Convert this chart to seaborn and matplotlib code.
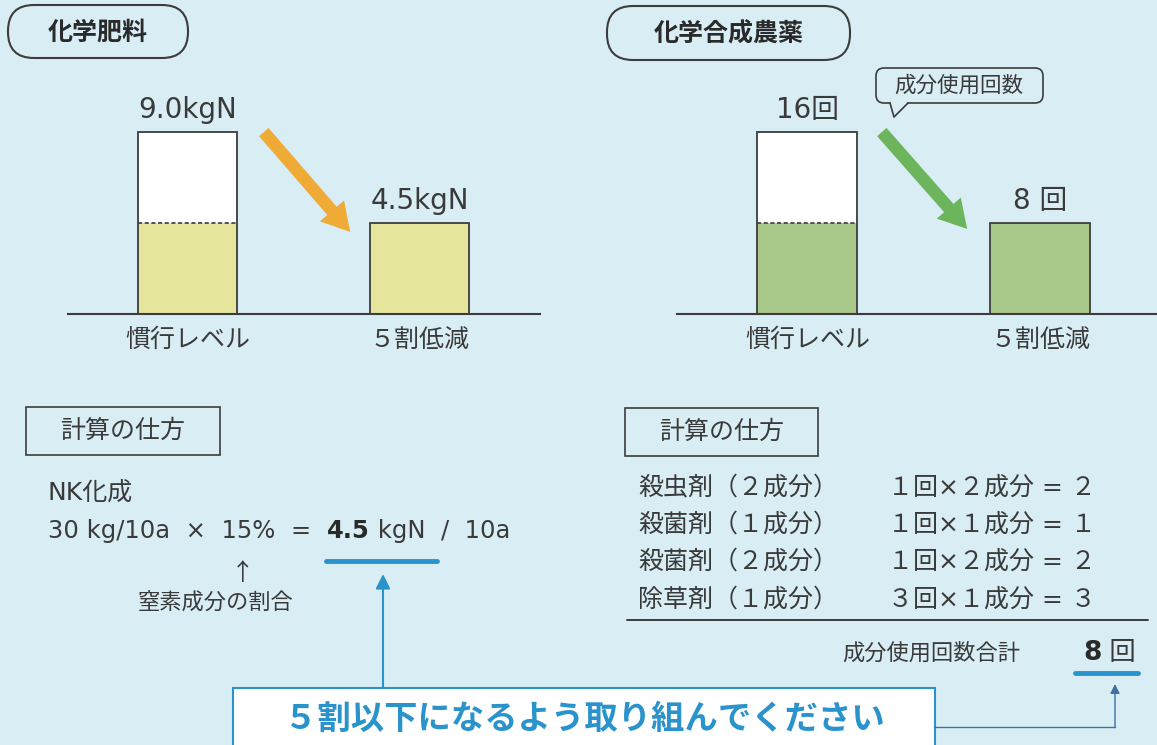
import numpy as np
import pandas as pd
import matplotlib
matplotlib.use("Agg")
import matplotlib.pyplot as plt
from matplotlib.patches import FancyBboxPatch, Rectangle, FancyArrowPatch, Polygon
from matplotlib.lines import Line2D
import seaborn as sns


# ==========================================================
# DATA
# ==========================================================

fert_title = "化学肥料"
fert_labels = ["慣行レベル", "５割低減"]
fert_values = [9.0, 4.5]
fert_value_labels = ["9.0kgN", "4.5kgN"]
fert_target = 4.5

pest_title = "化学合成農薬"
pest_labels = ["慣行レベル", "５割低減"]
pest_values = [16, 8]
pest_value_labels = ["16回", "8 回"]
pest_target = 8

calc_title = "計算の仕方"
fert_calc_name = "NK化成"
fert_calc_parts = ["30 kg/10a  ×  15%  =  ", "4.5", " kgN  /  10a"]
fert_calc_note = "窒素成分の割合"

pest_rows = [
    "殺虫剤（２成分）",
    "殺菌剤（１成分）",
    "殺菌剤（２成分）",
    "除草剤（１成分）",
]
pest_calcs = [
    "１回×２成分 = ２",
    "１回×１成分 = １",
    "１回×２成分 = ２",
    "３回×１成分 = ３",
]
pest_total_label = "成分使用回数合計"
pest_total = ["8", " 回"]
bubble_text = "成分使用回数"
callout_text = "５割以下になるよう取り組んでください"


# ==========================================================
# STYLE
# ==========================================================

W, H = 1157, 745
BG = "#d8eef4"
TEXT = "#3a3a3a"
EDGE = "#3c3c3c"
YELLOW = "#e6e59c"
GREEN = "#a9c98b"
ORANGE = "#f0aa36"
LEAF = "#6cb55c"
BLUE = "#2a93cc"
NAVY = "#3f6fa3"
BAR_W = 0.43

sns.set_theme(style="white")
plt.rcParams["font.family"] = ["DejaVu Sans", "Noto Sans CJK JP"]
CJK = ["Noto Sans CJK JP", "DejaVu Sans"]

fig = plt.figure(figsize=(W / 100, H / 100), dpi=100, facecolor=BG)

# full-figure overlay in pixel units
bg = fig.add_axes([0, 0, 1, 1])
bg.set_xlim(0, W)
bg.set_ylim(H, 0)
bg.axis("off")


def px_axes(x0, y0, x1, y1):
    return fig.add_axes([x0 / W, 1 - y1 / H, (x1 - x0) / W, (y1 - y0) / H])


# ==========================================================
# BAR PANELS
# ==========================================================

def draw_bars(ax, labels, values, target, fill_color, value_labels,
              x_left, x_right, top_px, base_px, axes_top_px):

    df = pd.DataFrame({
        "label": labels,
        "value": values,
        "filled": np.minimum(values, target),
    })

    sns.barplot(data=df, x="label", y="value", color="white",
                width=BAR_W, saturation=1, linewidth=0,
                errorbar=None, ax=ax)
    sns.barplot(data=df, x="label", y="filled", color=fill_color,
                width=BAR_W, saturation=1, linewidth=0,
                errorbar=None, ax=ax)
    sns.barplot(data=df, x="label", y="value", color=EDGE,
                width=BAR_W, fill=False, linewidth=1.3,
                errorbar=None, ax=ax)

    outline = ax.patches[-len(values):]

    for p, v, lbl in zip(outline, values, value_labels):
        if v > target:
            ax.hlines(target, p.get_x(), p.get_x() + p.get_width(),
                      colors=EDGE, linestyles=(0, (2.5, 1.5)), lw=1.2)
        ax.annotate(lbl, xy=(p.get_x() + p.get_width() / 2, v),
                    xytext=(0, 6), textcoords="offset points",
                    ha="center", va="bottom", fontsize=20, color=TEXT)

    ax.set_xlim(x_left, x_right)
    ax.set_ylim(0, max(values) * (base_px - axes_top_px) / (base_px - top_px))
    ax.set_xlabel("")
    ax.set_ylabel("")
    ax.set_yticks([])
    ax.set_facecolor("none")
    for s in ["left", "right", "top"]:
        ax.spines[s].set_visible(False)
    ax.spines["bottom"].set_color(EDGE)
    ax.spines["bottom"].set_linewidth(1.5)
    ax.tick_params(axis="x", length=0, pad=9, labelsize=18, labelcolor=TEXT)
    for lab in ax.get_xticklabels():
        lab.set_family(CJK)


ax1 = px_axes(68, 60, 540, 314)
draw_bars(ax1, fert_labels, fert_values, fert_target, YELLOW,
          fert_value_labels, -0.515, 1.519, 132, 314, 60)

ax2 = px_axes(677, 60, 1157, 314)
draw_bars(ax2, pest_labels, pest_values, pest_target, GREEN,
          pest_value_labels, -0.561, 1.503, 132, 314, 60)


# ==========================================================
# TITLES / DECORATIONS
# ==========================================================

for (x0, y0, x1, y1), title in [((8, 5, 188, 58), fert_title),
                                ((607, 6, 850, 60), pest_title)]:
    bg.add_patch(FancyBboxPatch(
        (x0, y0), x1 - x0, y1 - y0,
        boxstyle="round,pad=0,rounding_size=26",
        facecolor="none", edgecolor=EDGE, lw=1.5
    ))
    bg.text((x0 + x1) / 2, (y0 + y1) / 2 + 1, title, ha="center",
            va="center", fontsize=18, fontweight="bold", color="#2a2a2a",
            family=CJK)

# big arrows
bg.add_patch(FancyArrowPatch(
    (262, 130), (352, 234),
    arrowstyle="simple,head_width=2.3,head_length=2.0,tail_width=0.9",
    mutation_scale=10, color=ORANGE, lw=0
))
bg.add_patch(FancyArrowPatch(
    (880, 130), (969, 231),
    arrowstyle="simple,head_width=2.3,head_length=2.0,tail_width=0.9",
    mutation_scale=10, color=LEAF, lw=0
))

# speech bubble
bg.add_patch(FancyBboxPatch(
    (876, 68), 167, 35,
    boxstyle="round,pad=0,rounding_size=8",
    facecolor=BG, edgecolor=EDGE, lw=1.2
))
bg.add_patch(Polygon([(891, 101), (907, 101), (907, 105), (891, 105)],
                     closed=True, facecolor=BG, edgecolor="none"))
bg.add_line(Line2D([890, 894, 908], [103, 117, 103], color=EDGE, lw=1.2))
bg.text(959, 86, bubble_text, ha="center", va="center",
        fontsize=15.5, color=TEXT, family=CJK)

# calc boxes
for x0, y0, x1, y1 in [(26, 407, 220, 455), (625, 408, 818, 456)]:
    bg.add_patch(Rectangle((x0, y0), x1 - x0, y1 - y0,
                           facecolor="none", edgecolor=EDGE, lw=1.2))
    bg.text((x0 + x1) / 2, (y0 + y1) / 2, calc_title, ha="center",
            va="center", fontsize=18, color=TEXT, family=CJK)


# ==========================================================
# FERTILIZER CALCULATION
# ==========================================================

bg.text(48, 493, fert_calc_name, ha="left", va="center",
        fontsize=18, color=TEXT)

t = bg.text(48, 531, fert_calc_parts[0], ha="left", va="center",
            fontsize=17.5, color=TEXT)
t = bg.annotate(fert_calc_parts[1], xy=(1, 0.5), xycoords=t,
                ha="left", va="center", fontsize=17.5,
                fontweight="bold", color="#2a2a2a")
bg.annotate(fert_calc_parts[2], xy=(1, 0.5), xycoords=t,
            ha="left", va="center", fontsize=17.5, color=TEXT)

bg.add_line(Line2D([326, 437], [561, 561], color=BLUE, lw=3.5))
bg.text(243, 573, "↑", ha="center", va="center", fontsize=17,
        color=TEXT, family=CJK)
bg.text(216, 603, fert_calc_note, ha="center", va="center",
        fontsize=16, color=TEXT, family=CJK)

bg.annotate("", xy=(383, 574), xytext=(383, 688),
            arrowprops=dict(arrowstyle="-|>", color=BLUE, lw=1.5,
                            mutation_scale=22, shrinkA=0, shrinkB=0))


# ==========================================================
# PESTICIDE CALCULATION
# ==========================================================

row_y = [488, 525, 562, 600]
for y, name, calc in zip(row_y, pest_rows, pest_calcs):
    bg.text(638, y, name, ha="left", va="center", fontsize=18,
            color=TEXT, family=CJK)
    bg.text(888, y, calc, ha="left", va="center", fontsize=18, color=TEXT)

bg.add_line(Line2D([627, 1148], [620, 620], color=EDGE, lw=1.4))

bg.text(842, 653, pest_total_label, ha="left", va="center",
        fontsize=16, color=TEXT, family=CJK)
t = bg.text(1083, 653, pest_total[0], ha="left", va="center",
            fontsize=19, fontweight="bold", color="#2a2a2a")
bg.annotate(pest_total[1], xy=(1, 0.5), xycoords=t, ha="left",
            va="center", fontsize=19, color=TEXT)

bg.add_line(Line2D([1075, 1138], [673, 673], color=BLUE, lw=3.5))

bg.add_line(Line2D([935, 1115], [727, 727], color=NAVY, lw=1.0))
bg.annotate("", xy=(1115, 684), xytext=(1115, 727.5),
            arrowprops=dict(arrowstyle="-|>", color=NAVY, lw=1.0,
                            mutation_scale=14, shrinkA=0, shrinkB=0))


# ==========================================================
# CALLOUT
# ==========================================================

bg.add_patch(Rectangle((233, 688), 702, 70, facecolor="white",
                       edgecolor=BLUE, lw=1.5))
bg.text(584, 719, callout_text, ha="center", va="center",
        fontsize=24, fontweight="bold", color=BLUE, family=CJK)

fig.savefig("out.png", dpi=100, facecolor=BG)
plt.close(fig)
